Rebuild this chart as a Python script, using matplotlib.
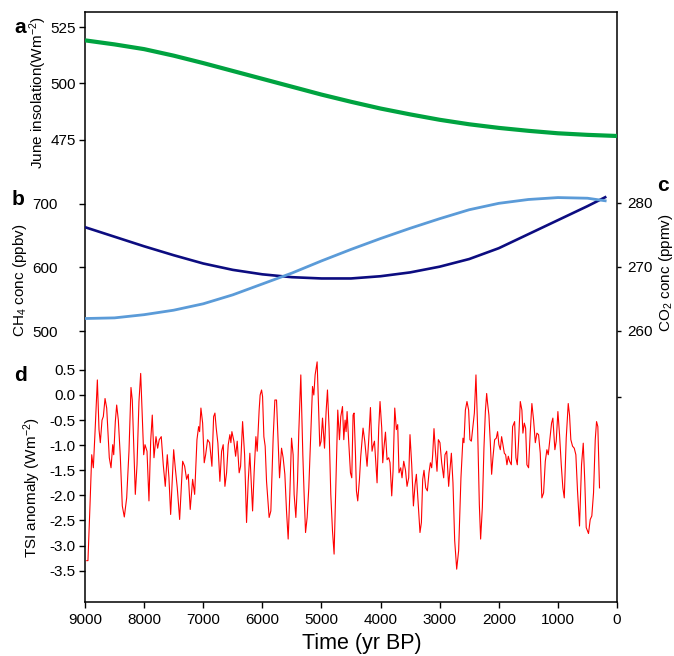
import matplotlib
matplotlib.use('Agg')
import matplotlib.pyplot as plt

plt.rcParams['font.family'] = ['Liberation Sans', 'DejaVu Sans']
plt.rcParams['mathtext.fontset'] = 'custom'
plt.rcParams['mathtext.rm'] = 'Liberation Sans'
plt.rcParams['mathtext.it'] = 'Liberation Sans'

# a: June insolation
ins_age = [9000, 8500, 8000, 7500, 7000, 6500, 6000, 5500, 5000, 4500,
           4000, 3500, 3000, 2500, 2000, 1500, 1000, 500, 0]
ins_val = [519.1, 517.3, 515.2, 512.3, 509.0, 505.5, 502.0, 498.5, 495.0, 491.8,
           488.8, 486.2, 483.8, 481.8, 480.2, 478.9, 477.8, 477.1, 476.6]

# b: CH4
ch4_age = [9000, 8500, 8000, 7500, 7000, 6500, 6000, 5500, 5000, 4500,
           4000, 3500, 3000, 2500, 2000, 1500, 1000, 500, 200]
ch4_val = [663.0, 648.0, 633.0, 619.0, 606.0, 596.0, 589.0, 584.5, 582.5, 582.5,
           586.0, 592.0, 601.0, 613.0, 630.0, 652.0, 674.0, 696.0, 710.0]

# c: CO2
co2_age = [9000, 8500, 8000, 7500, 7000, 6500, 6000, 5500, 5000, 4500,
           4000, 3500, 3000, 2500, 2000, 1500, 1000, 500, 200]
co2_val = [261.9, 262.0, 262.5, 263.2, 264.2, 265.6, 267.3, 269.0, 270.9, 272.7,
           274.4, 276.0, 277.5, 278.9, 279.9, 280.5, 280.8, 280.7, 280.3]

# d: TSI anomaly
tsi_age = [8970, 8950, 8915, 8886, 8859, 8830, 8791, 8763, 8741, 8712, 8690, 8661, 8633,
           8589, 8560, 8531, 8514, 8487, 8464, 8436, 8403, 8369, 8335, 8295, 8256, 8222,
           8200, 8149, 8120, 8087, 8058, 8031, 8007, 7985, 7951, 7918, 7889, 7862, 7833,
           7799, 7771, 7744, 7710, 7676, 7642, 7608, 7580, 7551, 7500, 7473, 7439, 7399,
           7348, 7314, 7281, 7253, 7220, 7179, 7145, 7106, 7078, 7061, 7039, 7010, 6983,
           6959, 6926, 6892, 6853, 6824, 6802, 6780, 6752, 6718, 6689, 6662, 6633, 6605,
           6577, 6549, 6532, 6515, 6481, 6452, 6425, 6392, 6368, 6334, 6300, 6267, 6239,
           6211, 6165, 6138, 6109, 6087, 6054, 6037, 6013, 5996, 5974, 5952, 5929, 5885,
           5856, 5817, 5788, 5760, 5738, 5709, 5675, 5648, 5619, 5591, 5563, 5535, 5506,
           5479, 5462, 5433, 5405, 5383, 5349, 5315, 5293, 5269, 5242, 5214, 5180, 5151,
           5129, 5107, 5073, 5045, 5028, 5006, 4982, 4948, 4921, 4898, 4871, 4842, 4813,
           4786, 4757, 4724, 4695, 4673, 4644, 4622, 4600, 4583, 4566, 4538, 4509, 4487,
           4465, 4448, 4424, 4408, 4386, 4357, 4335, 4296, 4267, 4228, 4200, 4171, 4144,
           4127, 4103, 4059, 4031, 4009, 3980, 3963, 3946, 3917, 3890, 3862, 3840, 3811,
           3789, 3760, 3732, 3710, 3688, 3659, 3637, 3608, 3579, 3552, 3524, 3502, 3473,
           3444, 3417, 3394, 3366, 3333, 3309, 3287, 3265, 3236, 3208, 3181, 3157, 3135,
           3118, 3096, 3072, 3045, 3022, 2995, 2966, 2932, 2910, 2881, 2848, 2826, 2802,
           2775, 2746, 2712, 2679, 2640, 2606, 2589, 2565, 2538, 2510, 2488, 2464, 2413,
           2386, 2358, 2329, 2307, 2278, 2251, 2227, 2205, 2189, 2167, 2143, 2121, 2099,
           2070, 2042, 2020, 1998, 1974, 1952, 1930, 1906, 1884, 1862, 1839, 1817, 1788,
           1766, 1732, 1710, 1687, 1665, 1636, 1609, 1592, 1568, 1546, 1524, 1496, 1467,
           1440, 1411, 1382, 1355, 1327, 1298, 1271, 1242, 1213, 1186, 1163, 1136, 1107,
           1085, 1051, 1028, 1000, 972, 943, 916, 892, 859, 825, 803, 781, 752, 723, 696,
           668, 634, 600, 571, 544, 521, 482, 453, 426, 397, 368, 346, 324, 296]
tsi_anom = [-3.30, -3.30, -2.18, -1.19, -1.45, -0.73, 0.30, -0.69, -0.95, -0.50, -0.43, -0.07, -0.26,
            -1.25, -1.45, -0.99, -1.19, -0.53, -0.20, -0.50, -1.22, -2.21, -2.43, -2.05, -1.12, 0.15,
            -0.10, -1.98, -1.39, -0.13, 0.43, -0.40, -1.19, -0.99, -1.12, -2.11, -0.92, -0.40, -1.25,
            -0.83, -1.06, -0.89, -0.83, -1.39, -1.82, -1.19, -1.65, -2.38, -1.09, -1.45, -1.85, -2.48,
            -1.32, -1.42, -1.68, -1.58, -2.28, -1.68, -1.98, -0.89, -0.63, -0.73, -0.26, -0.56, -1.35,
            -1.19, -0.89, -0.95, -1.42, -0.43, -0.36, -0.66, -0.96, -1.72, -1.12, -0.99, -1.82, -1.55,
            -0.99, -0.79, -0.95, -0.73, -0.92, -1.22, -0.92, -1.55, -1.42, -0.53, -1.19, -2.54, -1.72,
            -1.16, -2.31, -1.52, -0.83, -1.12, -0.30, 0.00, 0.10, -0.03, -0.83, -1.02, -1.72, -2.44,
            -2.31, -0.86, -0.10, -0.10, -0.79, -1.65, -1.06, -1.25, -1.58, -2.31, -2.87, -1.98, -0.86,
            -1.19, -1.98, -2.44, -1.72, -0.73, 0.40, -1.19, -1.98, -2.74, -2.44, -1.85, -0.79, 0.17,
            0.00, 0.40, 0.66, -0.40, -1.02, -0.92, -0.46, -1.06, -0.33, 0.10, -0.66, -1.98, -2.71,
            -3.17, -1.85, -0.30, -0.89, -0.43, -0.23, -0.89, -0.50, -0.73, -0.33, -0.95, -1.55, -1.65,
            -0.40, -0.36, -1.19, -1.91, -2.11, -1.68, -1.22, -0.66, -0.92, -1.42, -0.89, -0.25, -1.12,
            -1.02, -0.92, -1.75, -0.66, -0.13, -0.66, -1.35, -1.09, -0.74, -1.29, -1.25, -1.35, -2.01,
            -1.52, -0.26, -0.69, -0.59, -1.55, -1.45, -1.65, -1.32, -1.49, -1.82, -1.65, -0.79, -1.39,
            -2.21, -1.79, -1.58, -2.11, -2.74, -2.54, -1.68, -1.50, -1.85, -1.91, -1.55, -1.35, -1.45,
            -1.19, -0.67, -1.12, -1.52, -0.89, -0.95, -1.35, -1.65, -1.19, -1.12, -1.82, -1.49, -1.16,
            -1.75, -2.90, -3.47, -3.10, -1.65, -0.86, -0.95, -0.30, -0.13, -0.30, -0.89, -0.92, -0.36,
            0.40, -0.66, -2.18, -2.87, -2.24, -1.06, -0.33, 0.03, -0.17, -0.40, -0.95, -1.58, -1.25,
            -0.89, -0.86, -0.73, -0.99, -1.09, -0.83, -0.99, -1.16, -1.19, -1.39, -1.22, -1.32, -1.39,
            -0.63, -0.53, -1.25, -1.39, -0.92, -0.13, -0.30, -0.76, -0.56, -0.66, -1.39, -1.45, -0.73,
            -0.17, -0.50, -0.95, -0.76, -0.79, -1.16, -2.05, -1.95, -1.32, -1.09, -1.19, -0.89, -0.56,
            -0.46, -1.09, -0.92, -0.33, -0.79, -1.39, -1.85, -2.05, -0.86, -0.17, -0.40, -0.89, -1.02, -1.06, -1.19,
            -1.91, -2.61, -1.39, -0.96, -1.75, -2.64, -2.76, -2.48, -2.41, -1.95, -0.89, -0.53, -0.63, -1.85]

x_ticks = [9000, 8000, 7000, 6000, 5000, 4000, 3000, 2000, 1000, 0]

fig = plt.figure(figsize=(6.74, 6.56), dpi=100)
rect = [85 / 674, 1 - 602 / 656, 532 / 674, 590 / 656]

# outer frame with the time axis
ax = fig.add_axes(rect)
ax.set_xlim(9000, 0)
ax.set_ylim(0, 1)
ax.set_xticks(x_ticks)
ax.set_xticklabels([str(t) for t in x_ticks])
ax.set_yticks([])
for s in ax.spines.values():
    s.set_linewidth(1.1)
ax.tick_params(axis='x', direction='out', length=4, width=1, labelsize=11, pad=4)
ax.set_xlabel('Time (yr BP)', fontsize=15.5)
ax.xaxis.set_label_coords(0.521, -0.052)


def overlay(name, pad):
    a = fig.add_axes(rect, label=name)
    a.patch.set_visible(False)
    for s in a.spines.values():
        s.set_visible(False)
    a.set_xlim(9000, 0)
    a.set_xticks([])
    a.tick_params(axis='y', direction='out', length=4, width=1, labelsize=11, pad=pad)
    return a


# panel a
ax_a = overlay('a', 2.5)
ax_a.plot(ins_age, ins_val, color='#00a340', lw=3.0, solid_capstyle='butt')
ax_a.set_ylim(269.5, 531.7)
ax_a.set_yticks([475, 500, 525])

# panel b / c
ax_b = overlay('b', 15.5)
ax_b.plot(ch4_age, ch4_val, color='#0c0c80', lw=1.9)
ax_b.set_ylim(74.6, 1000.8)
ax_b.set_yticks([500, 600, 700])

ax_c = ax_b.twinx()
for s in ax_c.spines.values():
    s.set_visible(False)
ax_c.plot(co2_age, co2_val, color='#5b9bd8', lw=2.0)
ax_c.set_ylim(217.6, 309.8)
ax_c.set_yticks([260, 270, 280])
ax_c.tick_params(axis='y', direction='out', length=3, width=1, labelsize=11, pad=4.5)

# panel d
ax_d = overlay('d', 3)
ax_d.plot(tsi_age, tsi_anom, color='#ff0000', lw=0.8)
ax_d.set_ylim(-4.124, 7.63)
ax_d.set_yticks([0.5, 0.0, -0.5, -1.0, -1.5, -2.0, -2.5, -3.0, -3.5])
ax_d.set_yticklabels(['0.5', '0.0', '-0.5', '-1.0', '-1.5', '-2.0', '-2.5', '-3.0', '-3.5'])
ax_dr = ax_d.secondary_yaxis('right')
ax_dr.spines['right'].set_visible(False)
ax_dr.set_yticks([-0.04])
ax_dr.set_yticklabels([''])
ax_dr.tick_params(axis='y', direction='out', length=3, width=1)

# labels
ax.text(-0.0874, 0.8627, 'June insolation(Wm$^{-2}$)', transform=ax.transAxes,
        rotation=90, ha='center', va='center', fontsize=11)
ax.text(-0.1222, 0.5458, 'CH$_4$ conc (ppbv)', transform=ax.transAxes,
        rotation=90, ha='center', va='center', fontsize=11)
ax.text(1.092, 0.5576, 'CO$_2$ conc (ppmv)', transform=ax.transAxes,
        rotation=90, ha='center', va='center', fontsize=11)
ax.text(-0.0996, 0.1932, 'TSI anomaly (Wm$^{-2}$)', transform=ax.transAxes,
        rotation=90, ha='center', va='center', fontsize=11)

for letter, lx, ly in [('a', -0.1222, 0.9729), ('b', -0.125, 0.6814),
                       ('c', 1.0865, 0.7051), ('d', -0.1212, 0.3847)]:
    ax.text(lx, ly, letter, transform=ax.transAxes, ha='center', va='center',
            fontsize=15, fontweight='bold')

plt.savefig('out.png', dpi=100)
